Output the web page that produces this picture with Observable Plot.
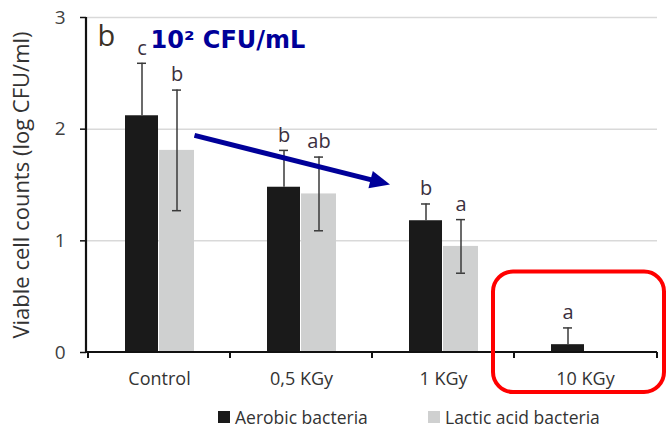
<!DOCTYPE html>
<html>
<head>
<meta charset="utf-8">
<script src="https://cdn.jsdelivr.net/npm/d3@7"></script>
<script src="https://cdn.jsdelivr.net/npm/@observablehq/plot@0.6"></script>
<style>
  html, body { margin: 0; padding: 0; background: #fff; overflow: hidden; }
  #chart { width: 666px; }
  .legend { position: relative; height: 24px; font-family: "Open Sans", sans-serif; font-size: 17.5px; line-height: 20px; color: #333; }
  .legend span.item { position: absolute; top: 3px; display: flex; align-items: center; gap: 5px; white-space: nowrap; }
  .legend i { display: inline-block; width: 12px; height: 12px; }
</style>
</head>
<body>
<div id="chart"></div>
<script>
// Irradiation treatments
const categories = ["Control", "0,5 KGy", "1 KGy", "10 KGy"];

// Aerobic bacteria: mean viable counts (log CFU/ml) and error
const aerobicMean = [2.12, 1.48, 1.18, 0.07];
const aerobicErr = [0.47, 0.33, 0.15, 0.15];
const aerobicLetters = ["c", "b", "b", "a"];

// Lactic acid bacteria: mean viable counts (log CFU/ml) and error
const lacticMean = [1.81, 1.42, 0.95, 0];
const lacticErr = [0.54, 0.33, 0.24, 0];
const lacticLetters = ["b", "ab", "a", ""];

const yTicks = [0, 1, 2, 3];
const seriesNames = ["Aerobic bacteria", "Lactic acid bacteria"];
const seriesColors = ["#1a1a1a", "#cfd0d0"];

// lowerWhisker: whether the error bar also extends below the mean
const rows = (means, errs, letters, lowerWhisker) => categories.map((cat, i) => ({
  cat, mean: means[i], err: errs[i], letter: letters[i],
  lo: lowerWhisker ? Math.max(0, means[i] - errs[i]) : means[i],
  hi: means[i] + errs[i],
  loCap: lowerWhisker && means[i] - errs[i] > 0
}));
const aerobic = rows(aerobicMean, aerobicErr, aerobicLetters, false);
const lactic = rows(lacticMean, lacticErr, lacticLetters, true).filter(d => d.mean > 0);

const font = "Open Sans, sans-serif";
const errColor = "#3a3a3a";
const letterColor = "#3b3040";

// one bar group per series: bar, error whisker, caps and letter
function series(data, fill, side) {
  // side -1 = left half of the pair, +1 = right half
  const barL = side < 0 ? 37 : 71, barR = side < 0 ? 72 : 36;
  const capL = side < 0 ? 49 : 84, capR = side < 0 ? 84 : 49;
  const dx = side * 17.5;
  return [
    Plot.barY(data, {x: "cat", y: "mean", fill, insetLeft: barL, insetRight: barR}),
    Plot.ruleX(data, {x: "cat", y1: "lo", y2: "hi", dx, stroke: errColor, strokeWidth: 1.5}),
    Plot.tickY(data, {x: "cat", y: "hi", stroke: errColor, strokeWidth: 1.5, insetLeft: capL, insetRight: capR}),
    Plot.tickY(data.filter(d => d.loCap), {x: "cat", y: "lo", stroke: errColor, strokeWidth: 1.5, insetLeft: capL, insetRight: capR}),
    Plot.text(data, {x: "cat", y: "hi", text: "letter", dx, dy: -15, fontSize: 20, fontFamily: font, fill: letterColor})
  ];
}

const plot = Plot.plot({
  width: 666,
  height: 404,
  marginLeft: 86,
  marginRight: 9,
  marginTop: 17,
  marginBottom: 52,
  style: {fontFamily: font, background: "#fff"},
  x: {domain: categories, padding: 0, label: null},
  y: {domain: [0, 3], label: null},
  marks: [
    Plot.gridY(yTicks.slice(1), {stroke: "#d9d9d9", strokeOpacity: 1, strokeWidth: 1.5}),
    ...series(aerobic, seriesColors[0], -1),
    ...series(lactic, seriesColors[1], 1),
    Plot.axisY(yTicks, {tickSize: 6, tickPadding: 15, tickFormat: "d", fontSize: 19, stroke: "#111", strokeWidth: 1.5, color: "#404040", label: null}),
    Plot.axisX({tickSize: 0, tickPadding: 20, fontSize: 18, color: "#333", label: null}),
    Plot.text(["Viable cell counts (log CFU/ml)"], {frameAnchor: "left", textAnchor: "middle", rotate: -90, dx: -65, fontSize: 22, fontFamily: font, fill: "#333"}),
    Plot.text(["b"], {frameAnchor: "top-left", dx: 11, dy: 8, fontSize: 29, fontFamily: font, fill: "#3c3226", textAnchor: "start", lineAnchor: "top"}),
    Plot.text(["10² CFU/mL"], {frameAnchor: "top-left", dx: 64, dy: 13, fontSize: 24, fontWeight: "bold", fontFamily: "DejaVu Sans, sans-serif", fill: "#000099", textAnchor: "start", lineAnchor: "top"})
  ]
});

// axis lines, category boundary ticks and annotations, placed through the plot scales
const sx = plot.scale("x"), sy = plot.scale("y");
const X = v => sx.apply(v), Y = v => sy.apply(v);
const bw = sx.bandwidth;
const [x0, x1] = sx.range;
const svg = d3.select(plot);
const g = svg.append("g");

g.append("line").attr("x1", x0).attr("x2", x0).attr("y1", Y(3)).attr("y2", Y(0))
  .attr("stroke", "#111").attr("stroke-width", 2.2);
g.append("line").attr("x1", x0).attr("x2", x1).attr("y1", Y(0)).attr("y2", Y(0))
  .attr("stroke", "#111").attr("stroke-width", 2);
const bounds = categories.map(c => X(c)).concat([x1]);
g.selectAll(".btick").data(bounds).join("line")
  .attr("x1", d => d).attr("x2", d => d).attr("y1", Y(0)).attr("y2", Y(0) + 6)
  .attr("stroke", "#111").attr("stroke-width", 2);

// arrow showing the decrease from Control to 1 KGy
const ax1 = X("Control") + bw * 0.75, ay1 = Y(1.94);
const ax2 = X("1 KGy") + 18, ay2 = Y(1.50);
const ang = Math.atan2(ay2 - ay1, ax2 - ax1);
const headLen = 20, headHalf = 9;
const bx = ax2 - headLen * Math.cos(ang), by = ay2 - headLen * Math.sin(ang);
g.append("line").attr("x1", ax1).attr("y1", ay1).attr("x2", bx + 2 * Math.cos(ang)).attr("y2", by + 2 * Math.sin(ang))
  .attr("stroke", "#000099").attr("stroke-width", 5);
g.append("path")
  .attr("d", `M${ax2},${ay2}L${bx - headHalf * Math.sin(ang)},${by + headHalf * Math.cos(ang)}L${bx + headHalf * Math.sin(ang)},${by - headHalf * Math.cos(ang)}Z`)
  .attr("fill", "#000099");

// highlight box around the 10 KGy group
const rLeft = X("10 KGy") - 21, rRight = x1 + 7;
g.append("rect").attr("x", rLeft).attr("y", Y(0.72)).attr("width", rRight - rLeft).attr("height", Y(0) + 40 - Y(0.72))
  .attr("rx", 20).attr("ry", 20).attr("fill", "none").attr("stroke", "#ff0000").attr("stroke-width", 4);

document.getElementById("chart").append(plot);

// legend under the chart
const legend = document.createElement("div");
legend.className = "legend";
const legendX = [218, 428];
seriesNames.forEach((name, i) => {
  const item = document.createElement("span");
  item.className = "item";
  item.style.left = legendX[i] + "px";
  const sw = document.createElement("i");
  sw.style.background = seriesColors[i];
  item.append(sw, document.createTextNode(name));
  legend.append(item);
});
document.getElementById("chart").append(legend);
</script>
</body>
</html>
